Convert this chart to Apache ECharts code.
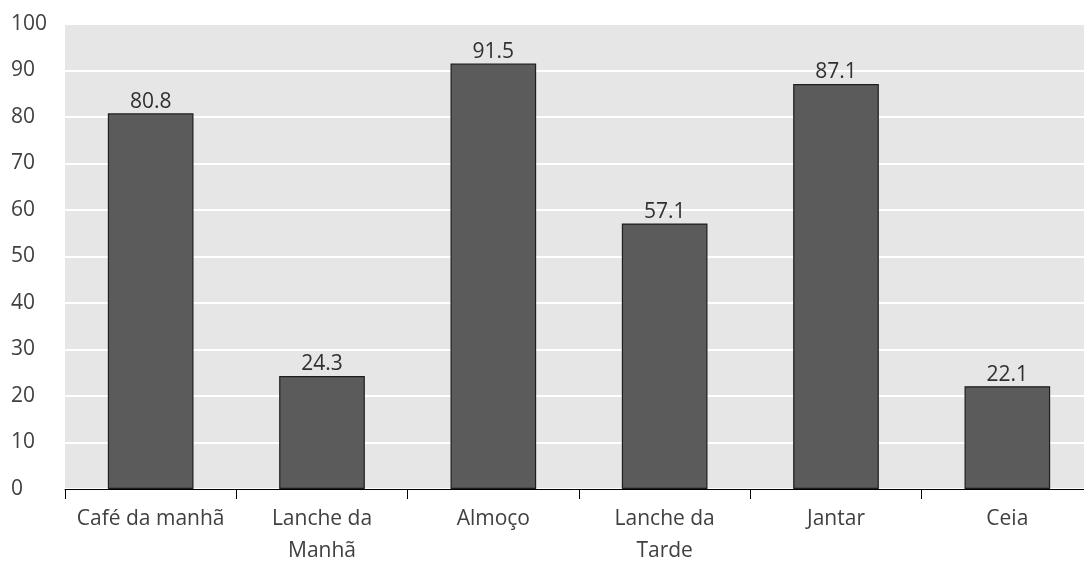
<!DOCTYPE html>
<html>
<head>
<meta charset="utf-8">
<style>
  html, body { margin: 0; padding: 0; background: #ffffff; }
  #chart { width: 1084px; height: 562px; }
</style>
<script src="https://cdn.jsdelivr.net/npm/echarts@6/dist/echarts.min.js"></script>
</head>
<body>
<div id="chart"></div>
<script>
// Meal occasions and their percentages
const categories = ['Café da manhã', 'Lanche da\nManhã', 'Almoço', 'Lanche da\nTarde', 'Jantar', 'Ceia'];
const values = [80.8, 24.3, 91.5, 57.1, 87.1, 22.1];
const yMin = 0;
const yMax = 100;
const yStep = 10;

const fontFamily = '"Open Sans", "Noto Sans", sans-serif';
const textColor = '#404040';

const chart = echarts.init(document.getElementById('chart'), null, { renderer: 'canvas' });
chart.setOption({
  animation: false,
  backgroundColor: '#ffffff',
  grid: {
    left: 65,
    right: -9,
    top: 24,
    bottom: 73,
    outerBoundsMode: 'none',
    containLabel: false,
    show: true,
    backgroundColor: '#e6e6e6',
    borderWidth: 0
  },
  xAxis: {
    type: 'category',
    data: categories,
    boundaryGap: true,
    axisLine: { show: true, lineStyle: { color: '#000000', width: 1 } },
    axisTick: { show: true, alignWithLabel: false, length: 10, lineStyle: { color: '#000000' } },
    axisLabel: {
      color: textColor,
      fontFamily: fontFamily,
      fontSize: 21,
      lineHeight: 32,
      margin: 14,
      interval: 0
    },
    splitLine: { show: false }
  },
  yAxis: {
    type: 'value',
    min: yMin,
    max: yMax,
    interval: yStep,
    axisLine: { show: false },
    axisTick: { show: false },
    axisLabel: {
      color: textColor,
      fontFamily: fontFamily,
      fontSize: 21,
      align: 'left',
      margin: 54
    },
    splitLine: { show: true, lineStyle: { color: '#ffffff', width: 2 } }
  },
  series: [{
    type: 'bar',
    data: values,
    barWidth: '50%',
    itemStyle: { color: '#5b5b5b', borderColor: '#1e1e1e', borderWidth: 1.2 },
    label: {
      show: true,
      position: 'top',
      distance: 1,
      color: '#303030',
      fontFamily: fontFamily,
      fontSize: 21,
      formatter: p => p.value.toFixed(1)
    }
  }]
});
</script>
</body>
</html>
